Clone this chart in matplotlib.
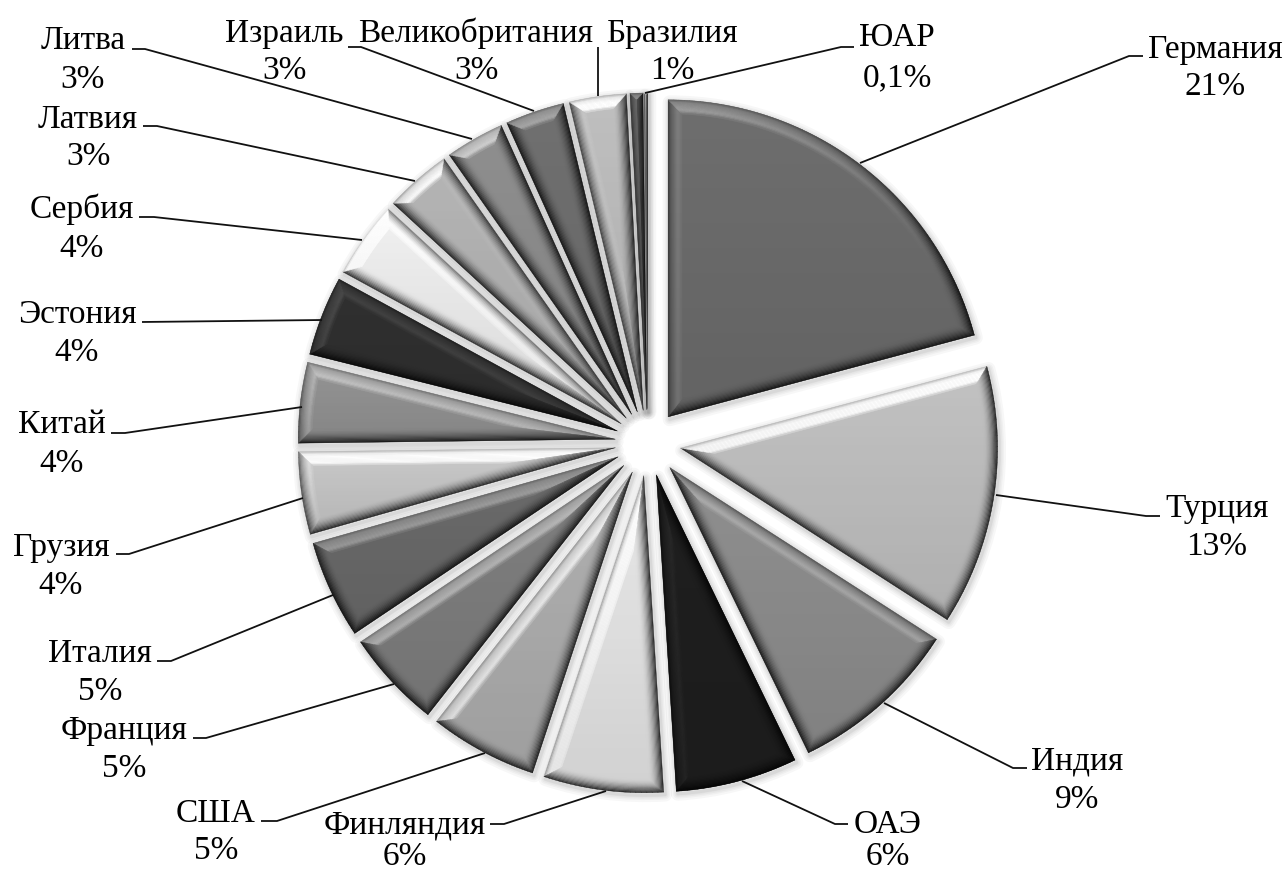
import numpy as np
import matplotlib
matplotlib.use("Agg")
import matplotlib.pyplot as plt
from matplotlib.collections import PolyCollection
from matplotlib.patches import Wedge

# Slices, clockwise from 12 o'clock
Countries = ["Германия", "Турция", "Индия", "ОАЭ", "Финляндия", "США", "Франция", "Италия", "Грузия",
             "Китай", "Эстония", "Сербия", "Латвия", "Литва", "Израиль", "Великобритания", "Бразилия", "ЮАР"]
Values = [20.85, 13.25, 8.7, 6.2, 6.1, 5.5, 5.0, 5.0, 4.2, 4.1, 4.05, 3.9, 3.4, 3.0, 3.0, 2.9, 0.65, 0.2]
Percent_Labels = ["21%", "13%", "9%", "6%", "6%", "5%", "5%", "5%", "4%",
                  "4%", "4%", "4%", "3%", "3%", "3%", "3%", "1%", "0,1%"]
Greys = [0.43, 0.76, 0.56, 0.12, 0.91, 0.69, 0.50, 0.42, 0.79,
         0.58, 0.19, 0.94, 0.71, 0.56, 0.44, 0.75, 0.42, 0.70]

# Layout in image pixels (y measured from the top)
W, H = 1285, 872
Centre = (648, 443)
Radius = 317
Explode_Px = 33
Bevel_Px = 14
N_Rings = 12
Font_Size = 24
Light_Angle = np.radians(115)

# name centre x, name y, percent centre x, percent y
Label_Pos = [(1215, 47, 1215, 84), (1217, 506, 1217, 544), (1077, 758, 1077, 797), (888, 822, 888, 854),
             (405, 822, 405, 854), (216, 811, 216, 848), (124, 728, 124, 766), (100, 651, 100, 689),
             (61, 545, 61, 583), (62, 422, 62, 461), (77, 312, 77, 350), (82, 207, 82, 246),
             (88, 117, 88, 154), (83, 38, 83, 77), (284, 31, 284, 68), (476, 31, 476, 68),
             (672, 31, 672, 68), (897, 35, 897, 75)]

# Leader lines: label side, elbow, slice side
Leaders = [[(1143, 56), (1129, 56), (860, 163)], [(1160, 516), (1146, 516), (996, 495)],
           [(1027, 768), (1013, 768), (884, 703)], [(848, 824), (835, 824), (742, 781)],
           [(490, 824), (504, 824), (606, 791)], [(261, 821), (277, 821), (485, 753)],
           [(193, 738), (206, 738), (394, 684)], [(157, 661), (171, 661), (333, 595)],
           [(116, 554), (129, 554), (303, 498)], [(111, 433), (125, 433), (302, 407)],
           [(142, 322), (322, 320)], [(139, 217), (154, 217), (362, 240)],
           [(143, 126), (157, 126), (415, 181)], [(132, 49), (145, 49), (472, 139)],
           [(348, 47), (361, 47), (534, 111)], [(598, 47), (598, 96)], [(854, 47), (841, 47), (645, 93)]]


def bevel_colour(face, normal, t):
    # t runs from 0 at the outer edge to 1 where the flat face starts, normal is the edge's facing angle
    up = np.cos(normal - Light_Angle)
    c = face * (1 - 0.85 * (1 - t)**1.8 * (1 - max(up, 0)))
    if up > 0:
        bump = np.interp(t, [0, 0.2, 0.75, 1], [-0.10, 0.6, 1.0, 0.1])
        c = c + up * bump * (0.08 + 0.34 * face)
    c = float(np.clip(c, 0, 1))
    return (c, c, c)


def inset_outline(cx, cy, r, t1, t2, d):
    # apex and the two corners of a slice shrunk by d, None once nothing is left of it
    half = (t2 - t1) / 2
    rr = r - d
    apex_dist = d / np.sin(half)
    delta = np.arcsin(d / rr)
    if apex_dist >= rr or t1 + delta >= t2 - delta:
        return None
    mid = (t1 + t2) / 2
    apex = (cx + apex_dist * np.cos(mid), cy + apex_dist * np.sin(mid))
    return apex, rr, t1 + delta, t2 - delta


fig = plt.figure(figsize=(W / 100, H / 100), dpi=100)
ax = fig.add_axes([0, 0, 1, 1])

wedges, _ = ax.pie(Values, colors=[str(g) for g in Greys], explode=[Explode_Px] * len(Values),
                   center=(Centre[0], H - Centre[1]), radius=Radius, startangle=90, counterclock=False,
                   wedgeprops={"zorder": 3, "linewidth": 0}, frame=False)

polys, cols = [], []
ds = np.linspace(0, Bevel_Px, N_Rings + 1)

for wedge, face in zip(wedges, Greys):
    cx, cy = wedge.center
    t1, t2 = np.radians(wedge.theta1), np.radians(wedge.theta2)
    r = wedge.r

    # soft shadow around the slice
    for lw in [10, 7, 5, 3, 2]:
        ax.add_patch(Wedge((cx + 1.5, cy - 2.5), r, wedge.theta1, wedge.theta2, fc="none", ec="k",
                           lw=lw, alpha=0.03, zorder=2, joinstyle="round"))

    # the slice gets a little darker towards its bottom
    arc_y = cy + r * np.sin(np.linspace(t1, t2, 50))
    y_low, y_high = min(cy, arc_y.min()), max(cy, arc_y.max())
    grad = np.zeros((64, 2, 4))
    grad[:, :, 3] = np.linspace(0, 0.10, 64)[:, None]
    im = ax.imshow(grad, extent=[cx - r, cx + r, y_low, y_high], zorder=4.5, aspect="auto", origin="upper")
    im.set_clip_path(wedge)

    # bevel rings from the outside in
    for k in range(N_Rings):
        a = inset_outline(cx, cy, r, t1, t2, max(ds[k], 0.01))
        b = inset_outline(cx, cy, r, t1, t2, ds[k + 1])
        if a is None or b is None:
            break
        t = (k + 0.5) / N_Rings
        (ax_, ay_), ra, a1, a2 = a
        (bx_, by_), rb, b1, b2 = b

        # straight sides
        polys.append([(ax_, ay_), (cx + ra * np.cos(a1), cy + ra * np.sin(a1)),
                      (cx + rb * np.cos(b1), cy + rb * np.sin(b1)), (bx_, by_)])
        cols.append(bevel_colour(face, t1 - np.pi / 2, t))
        polys.append([(ax_, ay_), (cx + ra * np.cos(a2), cy + ra * np.sin(a2)),
                      (cx + rb * np.cos(b2), cy + rb * np.sin(b2)), (bx_, by_)])
        cols.append(bevel_colour(face, t2 + np.pi / 2, t))

        # the rim, in short pieces because the light changes along it
        n_seg = max(2, int((t2 - t1) * 60))
        aa = np.linspace(a1, a2, n_seg + 1)
        bb = np.linspace(b1, b2, n_seg + 1)
        for s in range(n_seg):
            polys.append([(cx + ra * np.cos(aa[s]), cy + ra * np.sin(aa[s])),
                          (cx + ra * np.cos(aa[s + 1]), cy + ra * np.sin(aa[s + 1])),
                          (cx + rb * np.cos(bb[s + 1]), cy + rb * np.sin(bb[s + 1])),
                          (cx + rb * np.cos(bb[s]), cy + rb * np.sin(bb[s]))])
            cols.append(bevel_colour(face, (aa[s] + aa[s + 1]) / 2, t))

ax.add_collection(PolyCollection(polys, facecolors=cols, edgecolors=cols, linewidths=0.3, zorder=4))

for pts in Leaders:
    ax.plot([p[0] for p in pts], [H - p[1] for p in pts], color="#111111", lw=1.3, zorder=5,
            solid_capstyle="butt")

for name, pct, (nx, ny, px, py) in zip(Countries, Percent_Labels, Label_Pos):
    ax.text(nx, H - ny - 11, name, family="Liberation Serif", fontsize=Font_Size, ha="center", va="baseline")
    ax.text(px, H - py - 11, pct, family="Liberation Serif", fontsize=Font_Size, ha="center", va="baseline")

ax.set_xlim(0, W)
ax.set_ylim(0, H)
ax.set_aspect("auto")
ax.axis("off")

plt.savefig("out.png", dpi=100)
